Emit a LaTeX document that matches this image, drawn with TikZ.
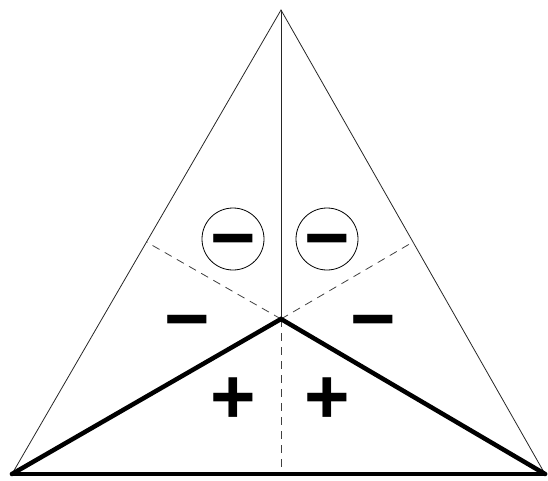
\documentclass[tikz,border=0pt]{standalone}
\usepackage{fontspec}
\setsansfont{Liberation Sans}
\usetikzlibrary{positioning,calc}
\tikzset{
  thinline/.style={line width=0.8pt,draw=black!85},
  thickline/.style={line width=4.5pt,line cap=round,line join=miter},
  dashline/.style={line width=0.8pt,draw=black!75,dash pattern=on 8pt off 6pt},
  sign/.style={font=\sffamily\bfseries\fontsize{78}{78}\selectfont,inner sep=0pt},
  negsign/.style={sign,yshift=-10pt},
  ring/.style={draw,circle,line width=0.8pt,minimum size=62pt,inner sep=0pt},
}
\begin{document}
\begin{tikzpicture}[x=1pt,y=-1pt]
  \useasboundingbox (0,0) rectangle (548,480);
  \coordinate (apex) at (281,10);
  \coordinate (lft) at (12,474);
  \coordinate (rgt) at (545,474);
  \coordinate (ctr) at (281,319);
  \coordinate (midL) at ($(apex)!0.5!(lft)$);
  \coordinate (midR) at ($(apex)!0.5!(rgt)$);
  \coordinate (midB) at (281,474);
  % outline and inner lines
  \draw[thinline] (lft) -- (apex) -- (rgt);
  \draw[thinline] (apex) -- (ctr);
  \draw[dashline] (ctr) -- (midL);
  \draw[dashline] (ctr) -- (midR);
  \draw[dashline] (ctr) -- (midB);
  \draw[thickline] (lft) -- (ctr) -- (rgt);
  \draw[thickline] (lft) -- (rgt);
  % signs
  \node[ring] (ringL) at (233,239) {};
  \node[ring] (ringR) at (327,239) {};
  \node[negsign] (negL) at (ringL) {−};
  \node[negsign] (negR) at (ringR) {−};
  \node[negsign] (minL) at (187,320) {−};
  \node[negsign] (minR) at (373,320) {−};
  \node[sign] (plusL) at (233,401) {+};
  \node[sign] (plusR) at (327,401) {+};
\end{tikzpicture}
\end{document}
